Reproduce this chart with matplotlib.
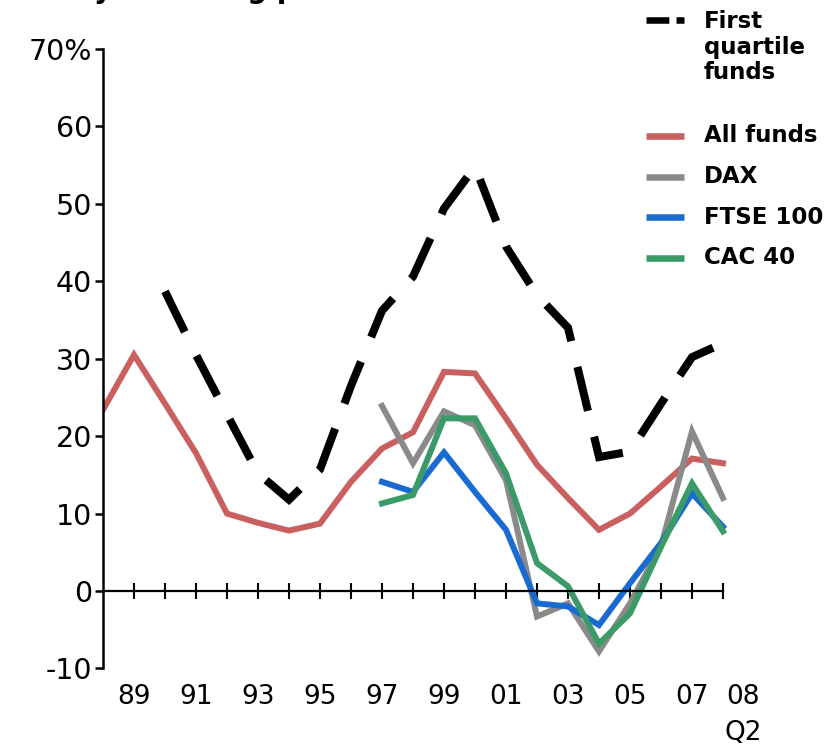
import matplotlib
matplotlib.use("Agg")
import matplotlib.pyplot as plt
from matplotlib.lines import Line2D

# data (percent)
years_all = list(range(1988, 2009))
all_funds = [23.4, 30.5, 24.2, 17.8, 10.0, 8.8, 7.8, 8.7, 14.1, 18.4, 20.5,
             28.3, 28.1, 22.3, 16.3, 12.0, 7.9, 10.0, 13.5, 17.1, 16.5]

years_quartile = list(range(1990, 2009))
first_quartile = [38.7, 30.5, 22.8, 15.2, 11.8, 15.7, 26.5, 36.2, 40.6, 49.4,
                  54.8, 44.5, 38.2, 34.0, 17.3, 18.0, 24.2, 30.2, 32.0]

years_index = list(range(1997, 2009))
dax = [23.9, 16.5, 23.2, 21.4, 14.3, -3.3, -1.6, -7.8, -1.6, 5.8, 20.6, 12.0]
ftse = [14.1, 12.8, 17.9, 12.8, 7.9, -1.6, -2.0, -4.4, 1.0, 6.2, 12.6, 8.3]
cac = [11.3, 12.4, 22.3, 22.3, 15.2, 3.6, 0.6, -6.8, -2.9, 5.7, 13.9, 7.7]

tick_years = list(range(1989, 2009))
label_years = [1989, 1991, 1993, 1995, 1997, 1999, 2001, 2003, 2005, 2007, 2008]
x_labels = ["89", "91", "93", "95", "97", "99", "01", "03", "05", "07", "08"]
y_ticks = [-10, 0, 10, 20, 30, 40, 50, 60, 70]
y_labels = ["-10", "0", "10", "20", "30", "40", "50", "60", "70%"]

legend_labels = ["First\nquartile\nfunds", "All funds", "DAX", "FTSE 100", "CAC 40"]

RED = "#c9605f"
GREY = "#8a8a8a"
BLUE = "#1a6bd1"
GREEN = "#3a9b68"

W, H = 827, 747
fig = plt.figure(figsize=(W / 100, H / 100), dpi=100)
# axes placed in pixels: 31 px per year, 7.74 px per percentage point
ax = fig.add_axes([103 / W, (H - 668.4) / H, 651 / W, 619.4 / H])
ax.set_xlim(1988, 2009)
ax.set_ylim(-10, 70)

ax.plot(years_all, all_funds, color=RED, lw=4.3, solid_joinstyle="miter")
ax.plot(years_index, dax, color=GREY, lw=4.3, solid_joinstyle="miter")
ax.plot(years_index, ftse, color=BLUE, lw=4.3, solid_joinstyle="miter")
ax.plot(years_index, cac, color=GREEN, lw=4.3, solid_joinstyle="miter")
ax.plot(years_quartile, first_quartile, color="black", lw=5.8,
        dashes=(5.6, 3.3), dash_capstyle="butt", dash_joinstyle="miter")

for s in ["top", "right"]:
    ax.spines[s].set_visible(False)
ax.spines["left"].set_bounds(-10, 70)
ax.spines["left"].set_linewidth(1.8)
ax.spines["bottom"].set_position(("data", 0))
ax.spines["bottom"].set_bounds(1988, 2008)
ax.spines["bottom"].set_linewidth(1.6)

ax.set_xticks(tick_years)
ax.tick_params(axis="x", direction="inout", length=12, width=1.5,
               labelbottom=False)
ax.set_yticks(y_ticks, y_labels)
ax.tick_params(axis="y", length=6, width=1.8, pad=2, labelsize=20.5)

# year labels sit below the -10 line, "08 Q2" nudged right of its tick
for yr, lab in zip(label_years, x_labels):
    shift = 0.65 if lab == "08" else 0
    ax.text(yr + shift, -13.7, lab, ha="center", va="center", fontsize=19,
            clip_on=False)
ax.text(label_years[-1] + 0.65, -18.4, "Q2", ha="center", va="center",
        fontsize=19, clip_on=False)

# cropped title, only its descenders show at the top edge
fig.text(-0.006, 1 + 1.5 / H, "IRRs by investing period", fontsize=20,
         fontweight="bold", va="baseline", ha="left")

# legend drawn by hand so the dashed key sits on the first line of its label
handles = [dict(color="black", lw=4.7, ls=(0, (3.5, 1.1, 1.5, 10))),
           dict(color=RED, lw=4.7), dict(color=GREY, lw=4.7),
           dict(color=BLUE, lw=4.7), dict(color=GREEN, lw=4.7)]
y_px = 20
for i, (lab, h) in enumerate(zip(legend_labels, handles)):
    yf = 1 - y_px / H
    fig.add_artist(Line2D([646 / W, 684 / W], [yf, yf],
                          transform=fig.transFigure, solid_capstyle="butt",
                          dash_capstyle="butt", **h))
    if "\n" in lab:
        fig.text(704 / W, 1 - 10 / H, lab, fontsize=16.5, fontweight="bold",
                 ha="left", va="top", linespacing=1.15)
    else:
        fig.text(704 / W, yf, lab, fontsize=16.5, fontweight="bold",
                 ha="left", va="center")
    y_px += 116 if i == 0 else 40.5

fig.savefig("out.png", dpi=100)
